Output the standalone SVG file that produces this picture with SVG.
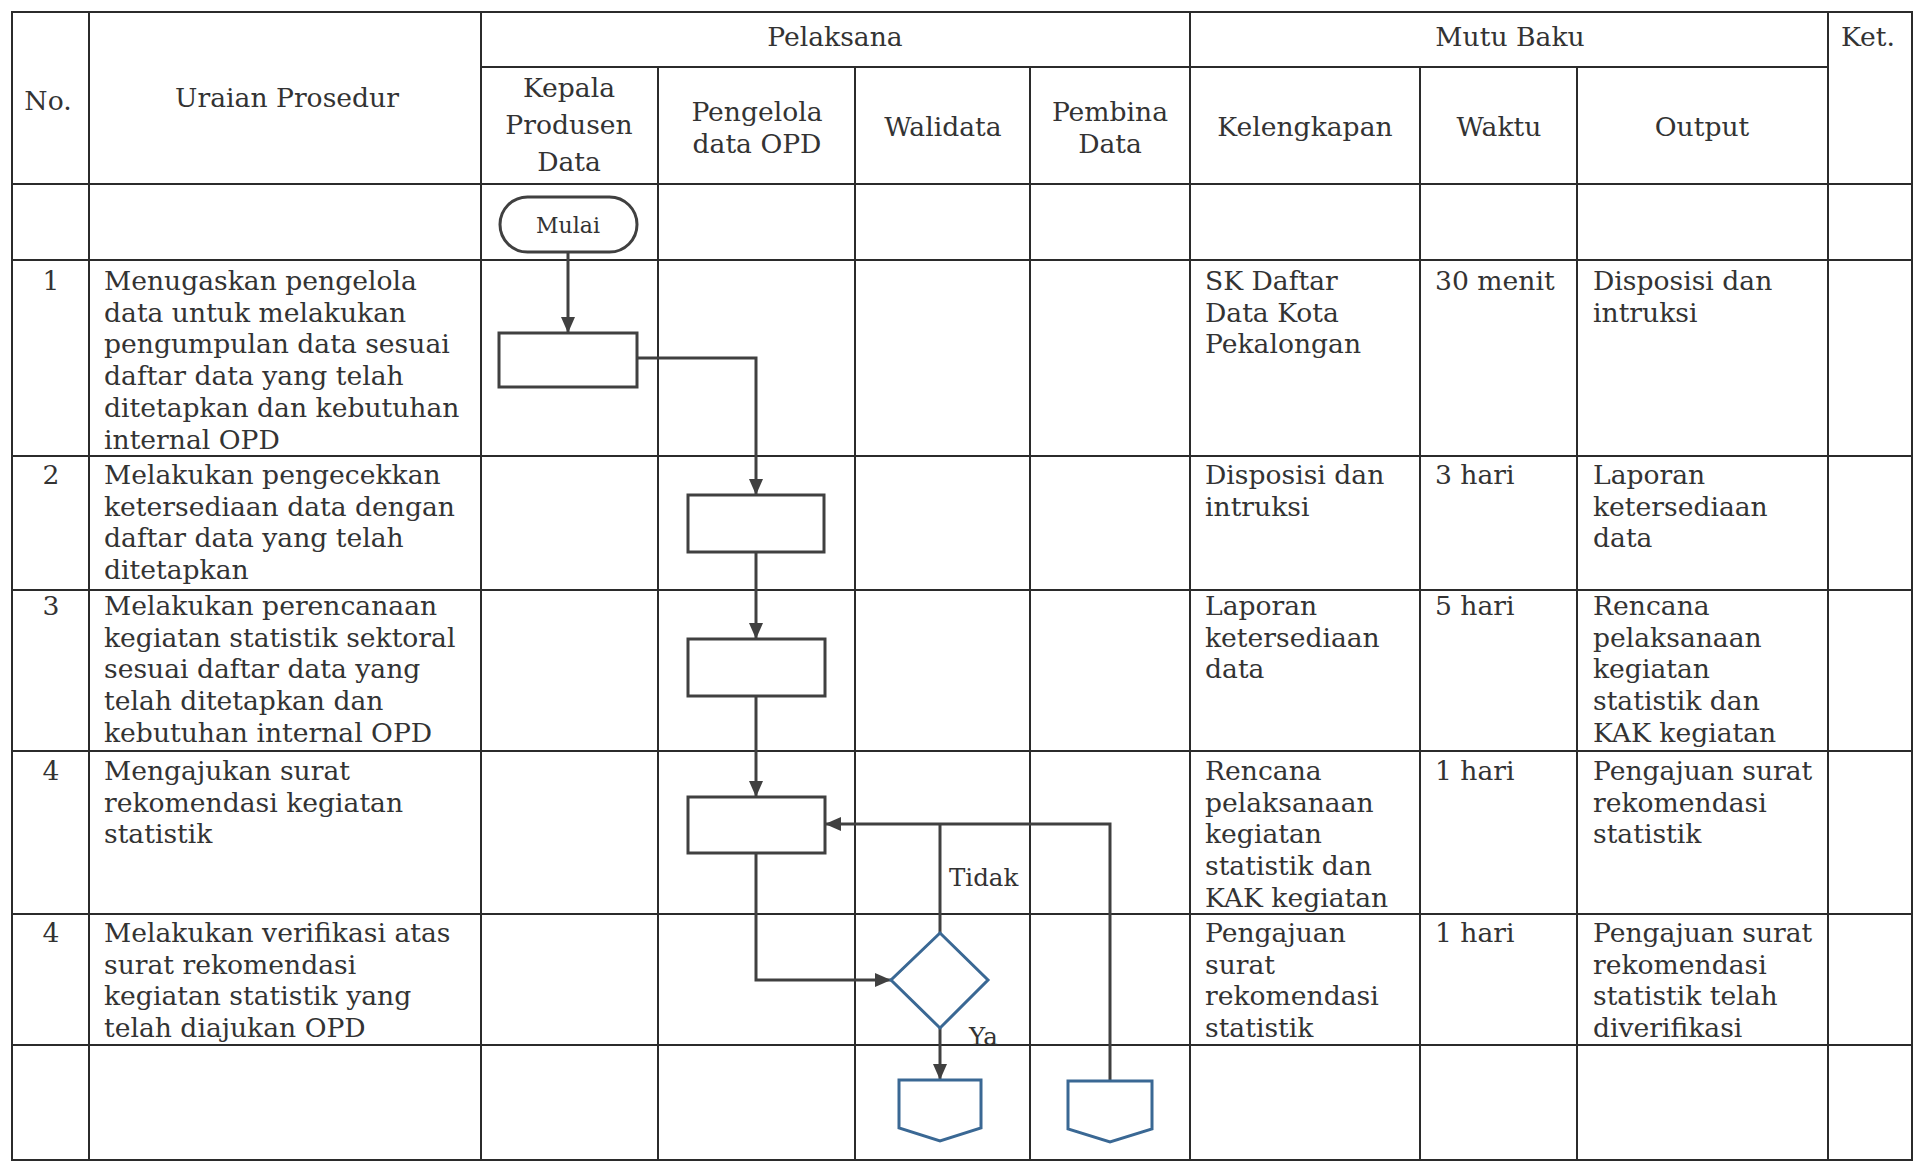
<svg xmlns="http://www.w3.org/2000/svg" width="1923" height="1164" viewBox="0 0 1923 1164">
<style>
.grid{stroke:#2b2b2b;stroke-width:2;fill:none}
.t{font-family:"DejaVu Serif","Liberation Serif",serif;font-size:26.6px;fill:#333}
.h{font-family:"DejaVu Serif","Liberation Serif",serif;font-size:26.6px;fill:#333;text-anchor:middle}
.c{text-anchor:middle}
.shape{fill:#fff;stroke:#404040;stroke-width:3}
.blue{fill:#fff;stroke:#3a6894;stroke-width:3}
.flow{fill:none;stroke:#404040;stroke-width:3}
.lbl{font-family:"DejaVu Serif","Liberation Serif",serif;font-size:24.5px;fill:#333}
</style>
<defs>
<marker id="arr" markerUnits="userSpaceOnUse" markerWidth="16" markerHeight="16" viewBox="0 0 16 16" refX="16" refY="8" orient="auto">
<path d="M0,1 L16,8 L0,15 Z" fill="#404040"/>
</marker>
</defs>
<rect width="1923" height="1164" fill="#fff"/>
<g id="table">
<rect class="grid" x="12" y="12" width="1900" height="1148"/>
<line class="grid" x1="481" y1="67" x2="1828" y2="67"/>
<line class="grid" x1="12" y1="184" x2="1912" y2="184"/>
<line class="grid" x1="12" y1="260" x2="1912" y2="260"/>
<line class="grid" x1="12" y1="456" x2="1912" y2="456"/>
<line class="grid" x1="12" y1="590" x2="1912" y2="590"/>
<line class="grid" x1="12" y1="751" x2="1912" y2="751"/>
<line class="grid" x1="12" y1="914" x2="1912" y2="914"/>
<line class="grid" x1="12" y1="1045" x2="1912" y2="1045"/>
<line class="grid" x1="89" y1="12" x2="89" y2="1160"/>
<line class="grid" x1="481" y1="12" x2="481" y2="1160"/>
<line class="grid" x1="658" y1="67" x2="658" y2="1160"/>
<line class="grid" x1="855" y1="67" x2="855" y2="1160"/>
<line class="grid" x1="1030" y1="67" x2="1030" y2="1160"/>
<line class="grid" x1="1190" y1="12" x2="1190" y2="1160"/>
<line class="grid" x1="1420" y1="67" x2="1420" y2="1160"/>
<line class="grid" x1="1577" y1="67" x2="1577" y2="1160"/>
<line class="grid" x1="1828" y1="12" x2="1828" y2="1160"/>
</g>
<g id="headers">
<text class="h" x="835" y="46">Pelaksana</text>
<text class="h" x="1510" y="46">Mutu Baku</text>
<text class="h" x="1868" y="46">Ket.</text>
<text class="h" x="48" y="110">No.</text>
<text class="h" x="287" y="107">Uraian Prosedur</text>
<text class="h" x="569" y="97">Kepala</text>
<text class="h" x="569" y="134">Produsen</text>
<text class="h" x="569" y="171">Data</text>
<text class="h" x="757" y="121">Pengelola</text>
<text class="h" x="757" y="153">data OPD</text>
<text class="h" x="943" y="136">Walidata</text>
<text class="h" x="1110" y="121">Pembina</text>
<text class="h" x="1110" y="153">Data</text>
<text class="h" x="1305" y="136">Kelengkapan</text>
<text class="h" x="1499" y="136">Waktu</text>
<text class="h" x="1702" y="136">Output</text>
</g>
<g id="row1">
<text class="h" x="51" y="290">1</text>
<text class="t" x="104" y="290">Menugaskan pengelola</text>
<text class="t" x="104" y="321.7">data untuk melakukan</text>
<text class="t" x="104" y="353.4">pengumpulan data sesuai</text>
<text class="t" x="104" y="385.1">daftar data yang telah</text>
<text class="t" x="104" y="416.8">ditetapkan dan kebutuhan</text>
<text class="t" x="104" y="448.5">internal OPD</text>
<text class="t" x="1205" y="290">SK Daftar</text>
<text class="t" x="1205" y="321.7">Data Kota</text>
<text class="t" x="1205" y="353.4">Pekalongan</text>
<text class="t" x="1435" y="290">30 menit</text>
<text class="t" x="1593" y="290">Disposisi dan</text>
<text class="t" x="1593" y="321.7">intruksi</text>
</g>
<g id="row2">
<text class="h" x="51" y="484">2</text>
<text class="t" x="104" y="484">Melakukan pengecekkan</text>
<text class="t" x="104" y="515.7">ketersediaan data dengan</text>
<text class="t" x="104" y="547.4">daftar data yang telah</text>
<text class="t" x="104" y="579.1">ditetapkan</text>
<text class="t" x="1205" y="484">Disposisi dan</text>
<text class="t" x="1205" y="515.7">intruksi</text>
<text class="t" x="1435" y="484">3 hari</text>
<text class="t" x="1593" y="484">Laporan</text>
<text class="t" x="1593" y="515.7">ketersediaan</text>
<text class="t" x="1593" y="547.4">data</text>
</g>
<g id="row3">
<text class="h" x="51" y="615">3</text>
<text class="t" x="104" y="615">Melakukan perencanaan</text>
<text class="t" x="104" y="646.7">kegiatan statistik sektoral</text>
<text class="t" x="104" y="678.4">sesuai daftar data yang</text>
<text class="t" x="104" y="710.1">telah ditetapkan dan</text>
<text class="t" x="104" y="741.8">kebutuhan internal OPD</text>
<text class="t" x="1205" y="615">Laporan</text>
<text class="t" x="1205" y="646.7">ketersediaan</text>
<text class="t" x="1205" y="678.4">data</text>
<text class="t" x="1435" y="615">5 hari</text>
<text class="t" x="1593" y="615">Rencana</text>
<text class="t" x="1593" y="646.7">pelaksanaan</text>
<text class="t" x="1593" y="678.4">kegiatan</text>
<text class="t" x="1593" y="710.1">statistik dan</text>
<text class="t" x="1593" y="741.8">KAK kegiatan</text>
</g>
<g id="row4">
<text class="h" x="51" y="780">4</text>
<text class="t" x="104" y="780">Mengajukan surat</text>
<text class="t" x="104" y="811.7">rekomendasi kegiatan</text>
<text class="t" x="104" y="843.4">statistik</text>
<text class="t" x="1205" y="780">Rencana</text>
<text class="t" x="1205" y="811.7">pelaksanaan</text>
<text class="t" x="1205" y="843.4">kegiatan</text>
<text class="t" x="1205" y="875.1">statistik dan</text>
<text class="t" x="1205" y="906.8">KAK kegiatan</text>
<text class="t" x="1435" y="780">1 hari</text>
<text class="t" x="1593" y="780">Pengajuan surat</text>
<text class="t" x="1593" y="811.7">rekomendasi</text>
<text class="t" x="1593" y="843.4">statistik</text>
</g>
<g id="row5">
<text class="h" x="51" y="942">4</text>
<text class="t" x="104" y="942">Melakukan verifikasi atas</text>
<text class="t" x="104" y="973.7">surat rekomendasi</text>
<text class="t" x="104" y="1005.4">kegiatan statistik yang</text>
<text class="t" x="104" y="1037.1">telah diajukan OPD</text>
<text class="t" x="1205" y="942">Pengajuan</text>
<text class="t" x="1205" y="973.7">surat</text>
<text class="t" x="1205" y="1005.4">rekomendasi</text>
<text class="t" x="1205" y="1037.1">statistik</text>
<text class="t" x="1435" y="942">1 hari</text>
<text class="t" x="1593" y="942">Pengajuan surat</text>
<text class="t" x="1593" y="973.7">rekomendasi</text>
<text class="t" x="1593" y="1005.4">statistik telah</text>
<text class="t" x="1593" y="1037.1">diverifikasi</text>
</g>
<g id="connectors">
<path class="flow" d="M568,252 V333" marker-end="url(#arr)"/>
<path class="flow" d="M637,358 H756 V495" marker-end="url(#arr)"/>
<path class="flow" d="M756,552 V639" marker-end="url(#arr)"/>
<path class="flow" d="M756,696 V797" marker-end="url(#arr)"/>
<path class="flow" d="M756,853 V980 H891" marker-end="url(#arr)"/>
<path class="flow" d="M940,933 V824"/>
<path class="flow" d="M1110,1080 V824 H825" marker-end="url(#arr)"/>
<path class="flow" d="M940,1028 V1080" marker-end="url(#arr)"/>
<text class="lbl" x="949" y="886">Tidak</text>
<text class="lbl" x="969" y="1045">Ya</text>
</g>
<g id="mulai">
<rect class="shape" x="500" y="197" width="137" height="55" rx="27.5"/>
<text class="lbl c" x="568" y="233" style="font-size:22px">Mulai</text>
</g>
<g id="step1"><rect class="shape" x="499" y="333" width="138" height="54"/></g>
<g id="step2"><rect class="shape" x="688" y="495" width="136" height="57"/></g>
<g id="step3"><rect class="shape" x="688" y="639" width="137" height="57"/></g>
<g id="step4"><rect class="shape" x="688" y="797" width="137" height="56"/></g>
<g id="decision"><polygon class="blue" points="940,933 988,980 940,1028 891,980"/></g>
<g id="offpage1"><polygon class="blue" points="899,1080 981,1080 981,1128 940,1141 899,1128"/></g>
<g id="offpage2"><polygon class="blue" points="1068,1081 1152,1081 1152,1129 1110,1142 1068,1129"/></g>
</svg>
